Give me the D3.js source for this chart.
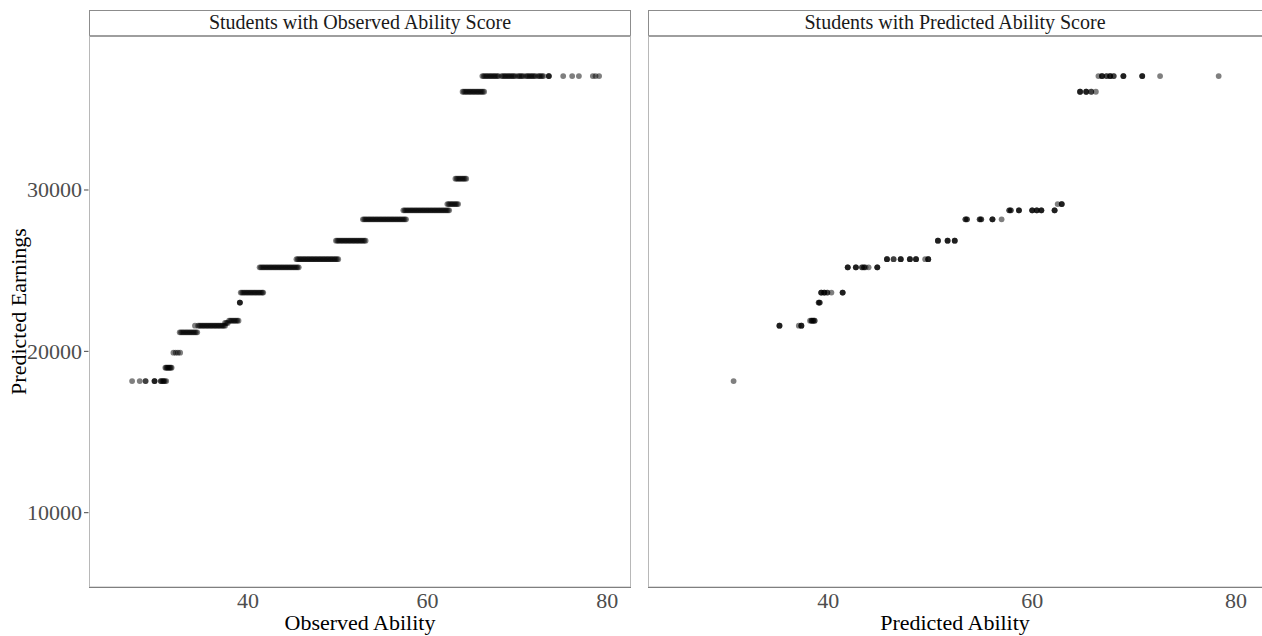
<!DOCTYPE html>
<html>
<head>
<meta charset="utf-8">
<script src="https://cdn.jsdelivr.net/npm/d3@7"></script>
<style>
  body { margin: 0; background: #fff; }
  text { font-family: "Liberation Serif", "Times New Roman", serif; }
</style>
</head>
<body>
<svg width="1262" height="636"></svg>
<script>
// earnings levels (y) shared by both panels
var earnLevels = [18160, 18990, 19920, 21180, 21590, 21760, 21900, 23020, 23640,
                  25210, 25710, 26860, 28180, 28740, 29130, 30700, 36090, 37060];

// observed ability scores at each earnings level
var obsAbility = [
  [27.1, 27.95, 28.6, 28.6, 29.6, 29.6, 29.6, 30.3, 30.3, 30.45, 30.6, 30.6, 30.75, 30.9],
  [30.8, 30.9, 31.0, 31.1, 31.2, 31.3, 31.4, 31.5],
  [31.7, 31.95, 32.2, 32.45],
  [32.4, 32.55, 32.7, 32.85, 33.0, 33.15, 33.3, 33.45, 33.6, 33.75, 33.9, 34.05, 34.2, 34.35],
  [34.1, 34.45, 34.6, 34.75, 34.9, 35.05, 35.2, 35.35, 35.5, 35.65, 35.8, 35.95, 36.1, 36.25,
   36.4, 36.55, 36.7, 36.85, 37.0, 37.15, 37.3, 37.45],
  [37.45, 37.6, 37.75],
  [37.9, 38.05, 38.2, 38.35, 38.5, 38.65, 38.8, 38.95],
  [39.1, 39.1, 39.1],
  [39.2, 39.35, 39.5, 39.65, 39.8, 39.95, 40.1, 40.25, 40.4, 40.55, 40.7, 40.85, 41.0, 41.15,
   41.3, 41.45, 41.6, 41.7],
  [41.3, 41.45, 41.6, 41.75, 41.9, 42.05, 42.2, 42.35, 42.5, 42.65, 42.8, 42.95, 43.1, 43.25,
   43.4, 43.55, 43.7, 43.85, 44.0, 44.15, 44.3, 44.45, 44.6, 44.75, 44.9, 45.05, 45.2, 45.35,
   45.5, 45.65],
  [45.4, 45.55, 45.7, 45.85, 46.0, 46.15, 46.3, 46.45, 46.6, 46.75, 46.9, 47.05, 47.2, 47.35,
   47.5, 47.65, 47.8, 47.95, 48.1, 48.25, 48.4, 48.55, 48.7, 48.85, 49.0, 49.15, 49.3, 49.45,
   49.6, 49.75, 49.9, 50.05],
  [49.8, 49.95, 50.1, 50.25, 50.4, 50.55, 50.7, 50.85, 51.0, 51.15, 51.3, 51.45, 51.6, 51.75,
   51.9, 52.05, 52.2, 52.35, 52.5, 52.65, 52.8, 52.95, 53.1],
  [52.8, 52.95, 53.1, 53.25, 53.4, 53.55, 53.7, 53.85, 54.0, 54.15, 54.3, 54.45, 54.6, 54.75,
   54.9, 55.05, 55.2, 55.35, 55.5, 55.65, 55.8, 55.95, 56.1, 56.25, 56.4, 56.55, 56.7, 56.85,
   57.0, 57.15, 57.3, 57.45, 57.6],
  [57.3, 57.45, 57.6, 57.75, 57.9, 58.05, 58.2, 58.35, 58.5, 58.65, 58.8, 58.95, 59.1, 59.25,
   59.4, 59.55, 59.7, 59.85, 60.0, 60.15, 60.3, 60.45, 60.6, 60.75, 60.9, 61.05, 61.2, 61.35,
   61.5, 61.65, 61.8, 61.95, 62.1, 62.25, 62.4],
  [62.2, 62.35, 62.5, 62.65, 62.8, 62.95, 63.1, 63.25, 63.4],
  [63.1, 63.25, 63.4, 63.55, 63.7, 63.85, 64.0, 64.15, 64.3],
  [63.9, 64.05, 64.2, 64.35, 64.5, 64.65, 64.8, 64.95, 65.1, 65.25, 65.4, 65.55, 65.7, 65.85,
   66.0, 66.15, 66.3],
  [66.1, 66.25, 66.4, 66.55, 66.7, 66.85, 67.0, 67.15, 67.3, 67.45, 67.6, 67.75, 67.9, 68.25,
   68.4, 68.55, 68.7, 68.85, 69.0, 69.15, 69.3, 69.45, 69.6, 69.75, 70.05, 70.2, 70.35, 70.5,
   70.65, 70.95, 71.1, 71.25, 71.4, 71.55, 71.7, 71.85, 72.0, 72.3, 72.45, 72.6, 72.75, 72.9,
   73.5, 73.5, 73.5, 75.1, 76.1, 76.85, 78.4, 78.7, 79.1]
];

// predicted ability scores at each earnings level
var predAbility = [
  [30.7],
  [],
  [],
  [],
  [35.2, 35.2, 35.2, 37.1, 37.35, 37.35, 37.35],
  [],
  [38.2, 38.35, 38.35, 38.5, 38.5, 38.65, 38.65],
  [39.05, 39.05, 39.15, 39.15],
  [39.3, 39.3, 39.3, 39.6, 39.6, 39.6, 39.9, 39.9, 40.3, 41.4, 41.4, 41.4],
  [41.9, 41.9, 41.9, 42.7, 42.7, 42.7, 43.3, 43.3, 43.5, 43.5, 43.65, 43.95, 44.8, 44.8, 44.8],
  [45.75, 45.75, 45.75, 46.4, 46.4, 47.1, 47.1, 47.1, 48.0, 48.0, 48.0, 48.6, 48.6, 48.6,
   49.5, 49.8, 49.8, 49.8],
  [50.75, 50.75, 50.75, 51.7, 51.7, 51.7, 52.4, 52.4, 52.4],
  [53.45, 53.45, 53.6, 53.6, 54.85, 54.85, 55.0, 55.0, 56.1, 56.1, 56.1, 57.0],
  [57.75, 57.75, 57.9, 57.9, 58.7, 58.7, 58.7, 60.0, 60.0, 60.0, 60.45, 60.45, 60.45,
   60.9, 60.9, 60.9, 62.2, 62.2, 62.2],
  [62.5, 62.9, 62.9, 62.9],
  [],
  [64.7, 64.7, 64.7, 65.3, 65.3, 65.3, 65.8, 65.8, 66.25],
  [66.5, 66.85, 66.85, 66.85, 67.3, 67.3, 67.65, 67.65, 67.65, 68.0, 68.0,
   68.95, 68.95, 68.95, 70.8, 70.8, 70.8, 72.55, 78.3]
];

var panelTitles = ["Students with Observed Ability Score", "Students with Predicted Ability Score"];
var xTitles = ["Observed Ability", "Predicted Ability"];
var xTicks = [40, 60, 80];
var yTicks = [10000, 20000, 30000];

var svg = d3.select('svg');
var plotTop = 36, plotBottom = 587;

var y = d3.scaleLinear().domain([5395, 39544]).range([plotBottom, plotTop]);

var panels = [
  { x0: 89, x1: 631, data: obsAbility },
  { x0: 648, x1: 1263, data: predAbility }
];

function flatten(arr) {
  var pts = [];
  arr.forEach(function(xs, i) {
    xs.forEach(function(v) { pts.push({ x: v, y: earnLevels[i] }); });
  });
  return pts;
}

panels.forEach(function(p, i) {
  var x = d3.scaleLinear().domain([22.3, 82.65]).range([p.x0, p.x1]);
  var g = svg.append('g');
  var visibleRight = Math.min(p.x1, 1262);

  // strip
  g.append('rect').attr('x', p.x0 + 0.5).attr('y', 10.5)
    .attr('width', p.x1 - p.x0 - 1).attr('height', 25.5)
    .attr('fill', '#fff').attr('stroke', '#8c8c8c').attr('stroke-width', 1);
  g.append('line').attr('x1', p.x0).attr('x2', p.x1).attr('y1', 36).attr('y2', 36)
    .attr('stroke', '#6e6e6e').attr('stroke-width', 1.4);
  g.append('text').attr('x', (p.x0 + visibleRight) / 2).attr('y', 29)
    .attr('text-anchor', 'middle').attr('font-size', '20px').attr('fill', '#1a1a1a')
    .text(panelTitles[i]);

  // panel border
  g.append('rect').attr('x', p.x0 + 0.5).attr('y', plotTop)
    .attr('width', p.x1 - p.x0 - 1).attr('height', plotBottom - plotTop)
    .attr('fill', 'none').attr('stroke', '#b8b8b8').attr('stroke-width', 1);
  g.append('line').attr('x1', p.x0).attr('x2', p.x1).attr('y1', plotBottom + 0.5).attr('y2', plotBottom + 0.5)
    .attr('stroke', '#7f7f7f').attr('stroke-width', 1.2);

  // points
  g.append('g').selectAll('circle')
    .data(flatten(p.data))
    .enter().append('circle')
    .attr('cx', d => x(d.x)).attr('cy', d => y(d.y)).attr('r', 2.9)
    .attr('fill', '#000').attr('fill-opacity', 0.5);

  // x axis labels
  g.selectAll('.xtick').data(xTicks).enter().append('text')
    .attr('class', 'xtick')
    .attr('x', d => x(d)).attr('y', 608)
    .attr('text-anchor', 'middle').attr('font-size', '22px').attr('fill', '#4d4d4d')
    .text(d => d);
  g.append('text').attr('x', (p.x0 + visibleRight) / 2)
    .attr('y', 630).attr('text-anchor', 'middle').attr('font-size', '22px').attr('fill', '#000')
    .text(xTitles[i]);
});

// y axis on left panel
var yg = svg.append('g');
yg.selectAll('line').data(yTicks).enter().append('line')
  .attr('x1', 84).attr('x2', 88.5).attr('y1', d => y(d)).attr('y2', d => y(d))
  .attr('stroke', '#444').attr('stroke-width', 1);
yg.selectAll('text').data(yTicks).enter().append('text')
  .attr('x', 82).attr('y', d => y(d)).attr('dy', '0.34em')
  .attr('text-anchor', 'end').attr('font-size', '22px').attr('fill', '#4d4d4d')
  .text(d => d);
svg.append('text')
  .attr('transform', 'translate(26,' + ((plotTop + plotBottom) / 2) + ') rotate(-90)')
  .attr('text-anchor', 'middle').attr('font-size', '22px').attr('fill', '#000')
  .text('Predicted Earnings');
</script>
</body>
</html>
